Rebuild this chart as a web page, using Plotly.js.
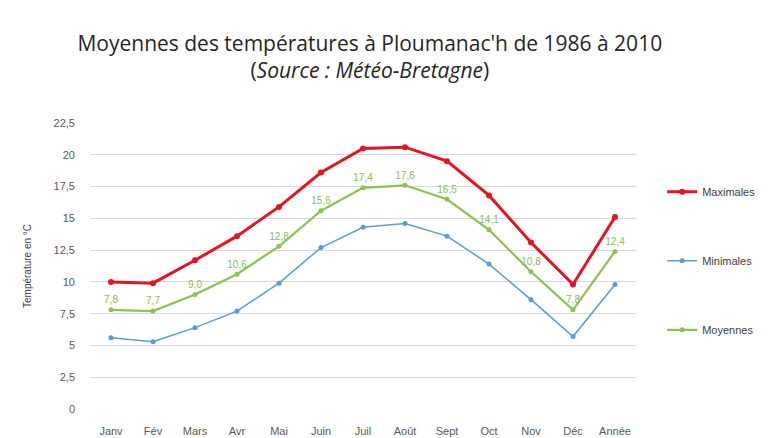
<!DOCTYPE html>
<html><head><meta charset="utf-8">
<script src="https://cdn.plot.ly/plotly-3.0.1.min.js"></script>
<style>html,body{margin:0;padding:0;background:#fff}#chart{width:772px;height:438px}</style>
</head><body><div id="chart"></div>
<script>
const months = ["Janv","Fév","Mars","Avr","Mai","Juin","Juil","Août","Sept","Oct","Nov","Déc","Année"];
const maximales = [10.0, 9.9, 11.7, 13.6, 15.9, 18.6, 20.5, 20.6, 19.5, 16.8, 13.1, 9.8, 15.1];
const minimales = [5.6, 5.3, 6.4, 7.7, 9.9, 12.7, 14.3, 14.6, 13.6, 11.4, 8.6, 5.7, 9.8];
const moyennes = [7.8, 7.7, 9.0, 10.6, 12.8, 15.6, 17.4, 17.6, 16.5, 14.1, 10.8, 7.8, 12.4];
const yTickVals = [0, 2.5, 5, 7.5, 10, 12.5, 15, 17.5, 20, 22.5];
const yTickText = ["0", "2,5", "5", "7,5", "10", "12,5", "15", "17,5", "20", "22,5"];

const fmt = v => v.toFixed(1).replace('.', ',');

const traces = [
  {x: months, y: maximales, name: "Maximales", type: "scatter", mode: "lines+markers",
   legendgroup: "a",
   line: {color: "#E3151E", width: 3}, marker: {color: "#E3151E", size: 6}},
  {x: months, y: minimales, name: "Minimales", type: "scatter", mode: "lines+markers",
   legendgroup: "b",
   line: {color: "#5B9BD5", width: 1.5}, marker: {color: "#5B9BD5", size: 5}},
  {x: months, y: moyennes, name: "Moyennes", type: "scatter", mode: "lines+markers+text",
   legendgroup: "c",
   text: moyennes.map(fmt), textposition: "top center",
   textfont: {color: "#8DB95A", size: 10, family: "Liberation Sans, Arial, sans-serif"},
   line: {color: "#8DC152", width: 2.2}, marker: {color: "#8DC152", size: 5}}
];

const layout = {
  width: 772, height: 438,
  margin: {l: 90, r: 135, t: 123, b: 29},
  paper_bgcolor: "#fff", plot_bgcolor: "#fff",
  font: {family: "Liberation Sans, Arial, sans-serif", color: "#595959", size: 11},
  title: {
    text: "Moyennes des températures à Ploumanac'h de 1986 à 2010<br>(<i>Source : Météo-Bretagne</i>)",
    x: 0.479, xanchor: "center", y: 0.884, yanchor: "top",
    font: {family: "Open Sans, Liberation Sans, sans-serif", size: 21, color: "#262626"}
  },
  xaxis: {
    type: "category", range: [-0.5, 12.5], showgrid: false, zeroline: false,
    showline: false, ticks: "", ticklabelstandoff: 14,
    tickfont: {size: 11, color: "#595959"}, fixedrange: true
  },
  yaxis: {
    range: [0, 22.5], tickvals: yTickVals, ticktext: yTickText,
    showgrid: true, gridcolor: "#D9D9D9", gridwidth: 1, zeroline: false,
    showline: false, ticks: "", ticklen: 0, ticklabelstandoff: 14,
    tickfont: {size: 11, color: "#595959"},
    title: {text: "Température en °C", font: {size: 10, color: "#404040"}, standoff: 20}
  },
  legend: {
    x: 1.046, xanchor: "left", y: 0.81, yanchor: "top",
    font: {size: 11, color: "#404040"}, tracegroupgap: 50,
    itemwidth: 30, bgcolor: "rgba(0,0,0,0)"
  },
  showlegend: true
};

Plotly.newPlot("chart", traces, layout, {displayModeBar: false, staticPlot: true});
</script>
</body></html>
